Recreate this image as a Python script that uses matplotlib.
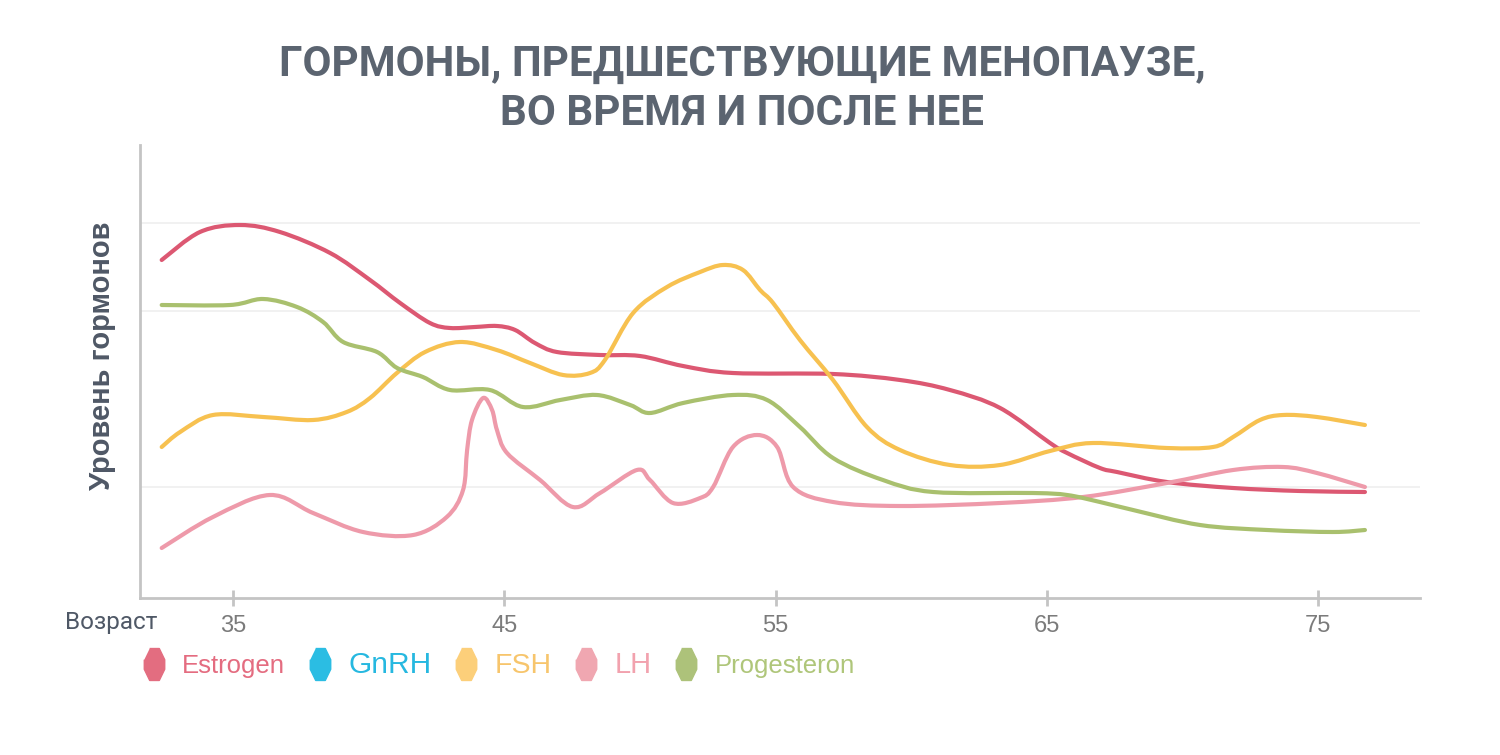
import matplotlib
matplotlib.use("Agg")
import matplotlib.pyplot as plt
from matplotlib.lines import Line2D
from matplotlib.path import Path
from matplotlib.patches import PathPatch

# ---- data (age in years, hormone level in arbitrary units) ----
estrogen_age = [32.37, 33.78, 35.26, 36.73, 38.58, 40.05, 41.16, 42.26, 43.0, 43.92, 44.73, 45.4,
                46.13, 46.94, 48.53, 50.0, 51.59, 53.43, 57.12, 59.59, 61.43, 63.28, 65.12, 65.75,
                66.96, 67.59, 69.43, 71.87, 74.34, 76.73]
estrogen_val = [338, 366, 373, 366, 345, 318, 295, 275, 270, 271, 272, 268,
                255, 246, 243, 242, 232, 225, 224, 218, 208, 190, 155, 145,
                130, 126, 116, 110, 107, 106]

fsh_age = [32.37, 33.05, 34.26, 36.11, 37.95, 39.19, 40.05, 41.04, 42.08, 43.37, 44.72, 45.95,
           47.17, 48.16, 48.71, 49.75, 51.0, 52.22, 53.06, 53.8, 54.43, 54.91, 55.9, 57.12,
           58.37, 59.59, 61.43, 63.28, 65.12, 66.7, 69.43, 71.13, 71.87, 72.86, 73.71, 74.96, 76.73]
fsh_val = [151, 166, 183, 181, 178, 186, 200, 225, 246, 256, 248, 235,
           223, 225, 238, 285, 311, 326, 333, 328, 308, 295, 258, 218,
           171, 148, 133, 133, 147, 155, 150, 151, 161, 178, 183, 181, 173]

lh_age = [32.37, 34.26, 36.36, 37.95, 39.79, 41.64, 42.88, 43.48, 43.63, 43.81, 44.22, 44.55,
          44.73, 45.1, 46.32, 47.53, 48.53, 49.89, 50.37, 51.22, 52.22, 52.7, 53.43, 54.32,
          55.06, 55.65, 57.12, 59.59, 63.28, 66.34, 69.43, 71.87, 73.71, 74.96, 76.73]
lh_val = [50, 81, 103, 85, 66, 63, 81, 108, 148, 178, 200, 188,
          168, 145, 118, 91, 105, 128, 118, 95, 100, 111, 151, 163,
          151, 111, 96, 92, 95, 101, 115, 128, 131, 125, 111]

prog_age = [32.37, 34.89, 36.11, 37.36, 38.32, 39.06, 40.31, 41.05, 42.0, 43.0, 44.47, 45.69,
            47.06, 48.42, 49.64, 50.37, 51.59, 53.43, 54.69, 55.9, 57.12, 58.96, 60.81, 64.49,
            65.75, 66.96, 68.18, 70.65, 73.12, 75.55, 76.73]
prog_val = [293, 293, 299, 291, 276, 256, 246, 230, 221, 208, 208, 191,
            198, 203, 193, 185, 195, 203, 198, 171, 140, 118, 106, 105,
            103, 96, 88, 73, 68, 66, 68]

x_ticks = [35, 45, 55, 65, 75]
grid_levels = [111, 287, 375]

legend_names = ["Estrogen", "GnRH", "FSH", "LH", "Progesteron"]
legend_sizes = [18.5, 21.5, 20.5, 21, 18.5]
line_colors = {"Estrogen": "#dc5872", "GnRH": "#2bbde3", "FSH": "#f7c150",
               "LH": "#ee9aaa", "Progesteron": "#a9c06e"}
marker_colors = ["#e36d80", "#2bbde3", "#fccf7a", "#f0a7b1", "#adc27a"]
text_colors = ["#e46c80", "#26b8e0", "#f7c56c", "#f2a2ae", "#afc67a"]

title_text = "ГОРМОНЫ, ПРЕДШЕСТВУЮЩИЕ МЕНОПАУЗЕ,\nВО ВРЕМЯ И ПОСЛЕ НЕЕ"
ylabel_text = "Уровень гормонов"
xlabel_text = "Возраст"


def smooth_path(xs, ys):
    """Cubic Bezier (Catmull-Rom style) path through the given points."""
    verts = [(xs[0], ys[0])]
    codes = [Path.MOVETO]
    n = len(xs)
    for i in range(n - 1):
        x0, y0 = (xs[i - 1], ys[i - 1]) if i > 0 else (xs[i], ys[i])
        x1, y1 = xs[i], ys[i]
        x2, y2 = xs[i + 1], ys[i + 1]
        x3, y3 = (xs[i + 2], ys[i + 2]) if i + 2 < n else (x2, y2)
        c1 = (x1 + (x2 - x0) / 6.0, y1 + (y2 - y0) / 6.0)
        c2 = (x2 - (x3 - x1) / 6.0, y2 - (y3 - y1) / 6.0)
        verts += [c1, c2, (x2, y2)]
        codes += [Path.CURVE4] * 3
    return Path(verts, codes)


# ---- figure ----
fig = plt.figure(figsize=(15, 7.55), dpi=100)
ax = fig.add_axes([140 / 1500, 157 / 755, 1280 / 1500, 453 / 755])

series = [("Estrogen", estrogen_age, estrogen_val),
          ("FSH", fsh_age, fsh_val),
          ("LH", lh_age, lh_val),
          ("Progesteron", prog_age, prog_val)]
for name, xs, ys in series:
    ax.add_patch(PathPatch(smooth_path(xs, ys), facecolor="none",
                           edgecolor=line_colors[name], lw=3.0,
                           capstyle="round", joinstyle="round", zorder=3))

ax.set_xlim(31.57, 78.76)
ax.set_ylim(0, 453)
ax.set_xticks(x_ticks)
ax.set_xticklabels([str(t) for t in x_ticks])
ax.set_yticks(grid_levels)
ax.set_yticklabels([])
ax.yaxis.grid(True, color="#efefef", lw=1.2)
ax.set_axisbelow(True)
ax.tick_params(axis="y", length=0)
ax.tick_params(axis="x", direction="inout", length=12, width=2, color="#c4c4c4",
               labelsize=17, labelcolor="#7b7b7b", pad=6)
for s in ["top", "right"]:
    ax.spines[s].set_visible(False)
for s in ["left", "bottom"]:
    ax.spines[s].set_color("#c4c4c4")
    ax.spines[s].set_linewidth(2)
for lab in ax.get_xticklabels():
    lab.set_fontfamily(["Liberation Sans", "DejaVu Sans"])

# title
fig.text(742 / 1500, 1 - 89 / 755, title_text, ha="center", va="center",
         fontsize=30.3, fontweight="bold", color="#5b6470", linespacing=1.25,
         family=["Roboto", "DejaVu Sans"])

# y label
fig.text(102 / 1500, 1 - 356 / 755, ylabel_text, rotation=90, ha="center", va="center",
         fontsize=21, fontweight="bold", color="#4f5866",
         family=["Liberation Sans", "DejaVu Sans"])

# x label
fig.text(65 / 1500, 1 - 622 / 755, xlabel_text, ha="left", va="center",
         fontsize=17.5, color="#4f5866", family=["Roboto", "DejaVu Sans"])

# legend
hexv = [(-0.15, 0.5), (0.15, 0.5), (0.32, 0.15), (0.32, -0.15), (0.15, -0.5),
        (-0.15, -0.5), (-0.32, -0.15), (-0.32, 0.15)]
handles = [Line2D([], [], ls="none", marker=hexv, ms=23, mfc=c, mec=c)
           for c in marker_colors]
leg = fig.legend(handles, legend_names, loc="center left",
                 bbox_to_anchor=(141 / 1500, 1 - 665 / 755), ncol=5, frameon=False,
                 handlelength=1.0, handletextpad=0.6, columnspacing=0.85,
                 borderpad=0, borderaxespad=0,
                 prop={"family": ["Liberation Sans", "DejaVu Sans"], "size": 18.5},
                 labelcolor=text_colors)
for t, s in zip(leg.get_texts(), legend_sizes):
    t.set_fontsize(s)

fig.savefig("out.png", dpi=100, facecolor="white")
